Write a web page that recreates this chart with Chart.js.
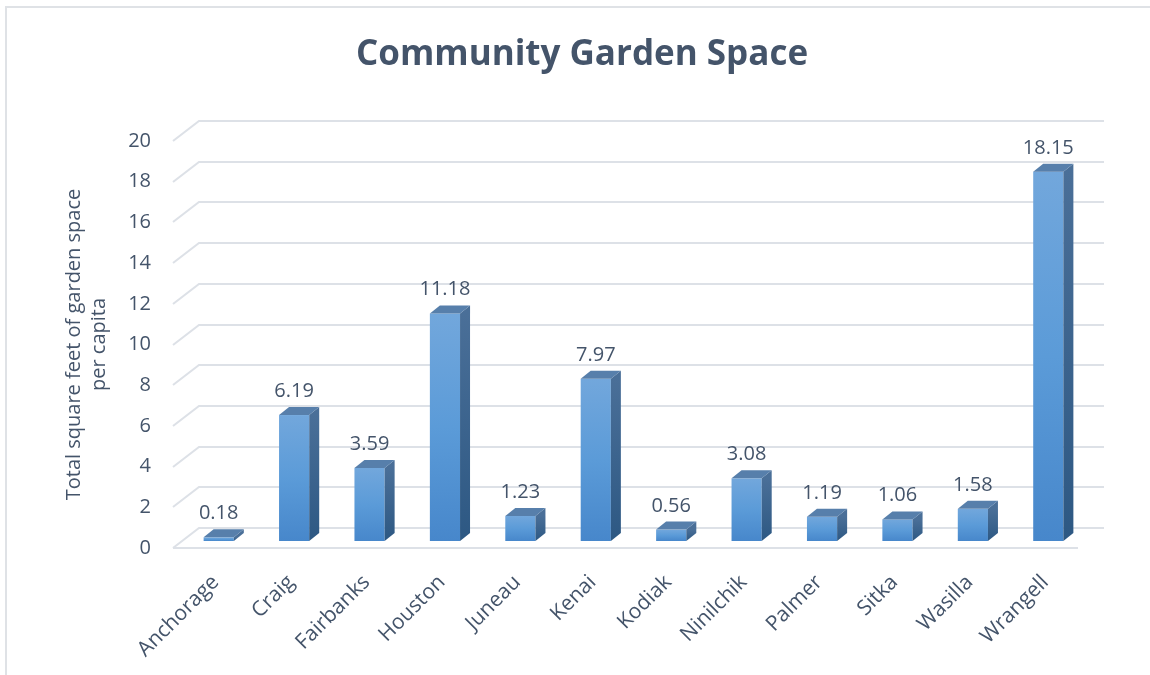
<!DOCTYPE html>
<html>
<head>
<meta charset="utf-8">
<title>Community Garden Space</title>
<script src="https://cdn.jsdelivr.net/npm/chart.js@4.4.1/dist/chart.umd.min.js"></script>
<style>
  body { margin: 0; background: #fff; }
  canvas { display: block; }
</style>
</head>
<body>
<canvas id="gardenChart" width="1150" height="675"></canvas>
<script>
const towns = ['Anchorage', 'Craig', 'Fairbanks', 'Houston', 'Juneau', 'Kenai',
               'Kodiak', 'Ninilchik', 'Palmer', 'Sitka', 'Wasilla', 'Wrangell'];
const sqftPerCapita = [0.18, 6.19, 3.59, 11.18, 1.23, 7.97, 0.56, 3.08, 1.19, 1.06, 1.58, 18.15];
const yTicks = [0, 2, 4, 6, 8, 10, 12, 14, 16, 18, 20];
const chartTitle = 'Community Garden Space';

const textColor = '#44546A';
const fontFamily = "'Open Sans', 'Noto Sans', sans-serif";

// fake 3D: bars stand a little behind the floor's front edge,
// the back wall sits further back
const barShift = { x: 8, y: -7 };
const barDepth = { x: 10, y: -8 };
const wallDepth = { x: 26, y: -20 };

const frame = {
  id: 'frame',
  beforeDraw(chart) {
    const ctx = chart.ctx;
    ctx.save();
    ctx.fillStyle = '#fff';
    ctx.fillRect(0, 0, chart.width, chart.height);
    ctx.strokeStyle = '#dfe2e6';
    ctx.lineWidth = 2;
    ctx.beginPath();
    ctx.moveTo(6, chart.height);
    ctx.lineTo(6, 7);
    ctx.lineTo(chart.width, 7);
    ctx.stroke();
    // title, centred on the plot including its back wall
    ctx.fillStyle = textColor;
    ctx.font = `bold 35px ${fontFamily}`;
    ctx.textAlign = 'center';
    ctx.textBaseline = 'middle';
    ctx.fillText(chartTitle, 582, 55);
    ctx.restore();
  }
};

const walls = {
  id: 'walls',
  beforeDatasetsDraw(chart) {
    const { ctx, chartArea: a, scales: { y } } = chart;
    ctx.save();
    ctx.strokeStyle = '#dde1e7';
    ctx.lineWidth = 2;
    yTicks.forEach(v => {
      const py = Math.round(y.getPixelForValue(v));
      ctx.beginPath();
      ctx.moveTo(a.left, py);
      ctx.lineTo(a.left + wallDepth.x, py + wallDepth.y);
      ctx.lineTo(a.right + wallDepth.x, py + wallDepth.y);
      ctx.stroke();
    });
    // front edge of the floor
    const y0 = Math.round(y.getPixelForValue(0));
    ctx.beginPath();
    ctx.moveTo(a.left, y0);
    ctx.lineTo(a.right, y0);
    ctx.stroke();
    ctx.restore();
  }
};

const bars3d = {
  id: 'bars3d',
  afterDatasetsDraw(chart) {
    const ctx = chart.ctx;
    const meta = chart.getDatasetMeta(0);
    ctx.save();
    meta.data.forEach((bar, i) => {
      const { x, y, base, width } = bar.getProps(['x', 'y', 'base', 'width'], true);
      const l = x - width / 2 + barShift.x;
      const r = x + width / 2 + barShift.x;
      const t = y + barShift.y;
      const b = base + barShift.y;

      // front face
      const front = ctx.createLinearGradient(0, t, 0, b);
      front.addColorStop(0, '#72A7DC');
      front.addColorStop(0.5, '#5B9BD8');
      front.addColorStop(1, '#4787CB');
      ctx.fillStyle = front;
      ctx.fillRect(l, t, r - l, b - t);

      // right side
      const side = ctx.createLinearGradient(0, t, 0, b);
      side.addColorStop(0, '#4A6F98');
      side.addColorStop(1, '#2D5883');
      ctx.fillStyle = side;
      ctx.beginPath();
      ctx.moveTo(r, b);
      ctx.lineTo(r, t);
      ctx.lineTo(r + barDepth.x, t + barDepth.y);
      ctx.lineTo(r + barDepth.x, b + barDepth.y);
      ctx.closePath();
      ctx.fill();

      // top
      ctx.fillStyle = '#577FAB';
      ctx.beginPath();
      ctx.moveTo(l, t);
      ctx.lineTo(r, t);
      ctx.lineTo(r + barDepth.x, t + barDepth.y);
      ctx.lineTo(l + barDepth.x, t + barDepth.y);
      ctx.closePath();
      ctx.fill();

      // value label
      ctx.fillStyle = textColor;
      ctx.font = `20px ${fontFamily}`;
      ctx.textAlign = 'center';
      ctx.textBaseline = 'alphabetic';
      ctx.fillText(sqftPerCapita[i].toFixed(2), (l + r) / 2, t - 18);
    });
    ctx.restore();
  }
};

new Chart(document.getElementById('gardenChart'), {
  type: 'bar',
  data: {
    labels: towns,
    datasets: [{
      label: 'Total square feet of garden space per capita',
      data: sqftPerCapita,
      backgroundColor: 'rgba(0,0,0,0)',
      categoryPercentage: 1,
      barPercentage: 0.4
    }]
  },
  options: {
    responsive: false,
    animation: false,
    events: [],
    layout: { padding: { left: 0, right: 72, top: 141, bottom: 0 } },
    plugins: {
      legend: { display: false },
      tooltip: { enabled: false },
      title: { display: false }
    },
    scales: {
      x: {
        grid: { display: false },
        border: { display: false },
        ticks: {
          color: textColor,
          font: { family: fontFamily, size: 21 },
          minRotation: 45,
          maxRotation: 45,
          padding: 14,
          labelOffset: 5
        },
        afterFit(scale) { scale.height = 127; }
      },
      y: {
        min: 0,
        max: 20,
        grid: { display: false, drawTicks: false },
        border: { display: false },
        ticks: {
          stepSize: 2,
          color: textColor,
          font: { family: fontFamily, size: 20 },
          padding: 22
        },
        title: {
          display: true,
          text: ['Total square feet of garden space', 'per capita'],
          color: textColor,
          font: { family: fontFamily, size: 20, lineHeight: 1.25 },
          padding: { top: 62, bottom: 0 }
        },
        afterFit(scale) { scale.width = 173; }
      }
    }
  },
  plugins: [frame, walls, bars3d]
});
</script>
</body>
</html>
